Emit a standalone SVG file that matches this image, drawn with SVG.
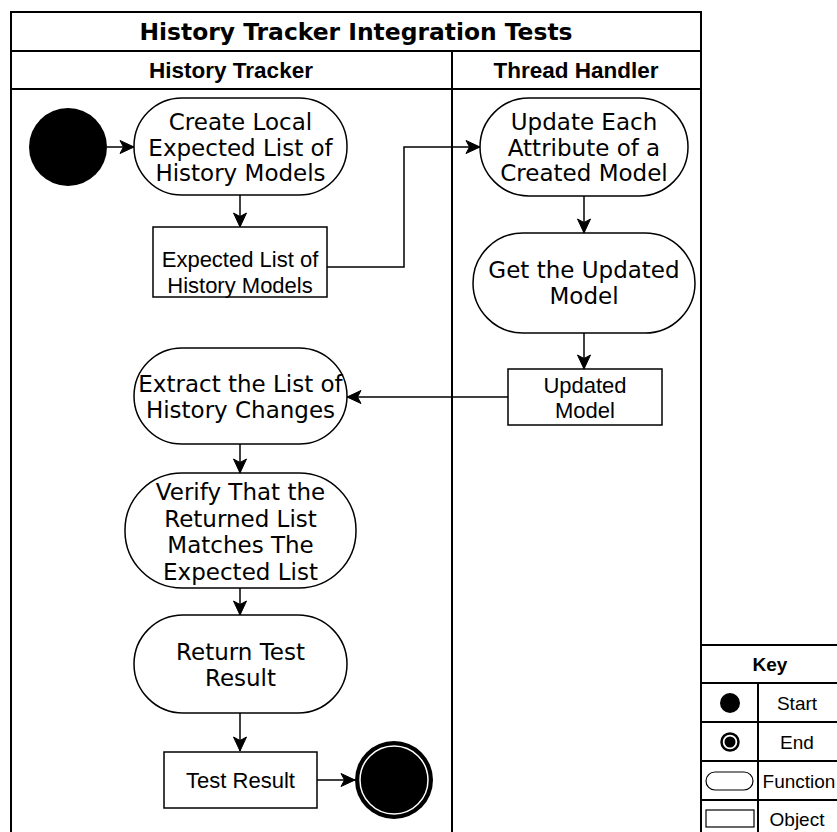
<svg xmlns="http://www.w3.org/2000/svg" width="837" height="832" viewBox="0 0 837 832">
<defs>
<style>
.frame{fill:none;stroke:#000;stroke-width:2}
.fn{fill:#fff;stroke:#000;stroke-width:1.5}
.obj{fill:#fff;stroke:#000;stroke-width:1.5}
.ft{font-family:"DejaVu Sans",Verdana,sans-serif;font-size:23px;fill:#000;text-anchor:middle}
.ot{font-family:"Liberation Sans",Arial,sans-serif;font-size:22px;fill:#000;text-anchor:middle}
.hd{font-family:"Liberation Sans",Arial,sans-serif;font-size:22.5px;font-weight:bold;fill:#000;text-anchor:middle}
.tt{font-family:"DejaVu Sans",Verdana,sans-serif;font-size:23.4px;font-weight:bold;fill:#000;text-anchor:middle}
.kt{font-family:"Liberation Sans",Arial,sans-serif;font-size:19px;fill:#000;text-anchor:middle}
.conn{fill:none;stroke:#000;stroke-width:1.5}
</style>
<marker id="arr" markerUnits="userSpaceOnUse" markerWidth="16" markerHeight="16" viewBox="0 0 16 16" refX="15" refY="8" orient="auto">
<path d="M1,1.5 L15,8 L1,14.5 L4.5,8 z" fill="#000" stroke="#000" stroke-width="1"/>
</marker>
</defs>
<rect width="837" height="832" fill="#fff"/>
<g id="frame">
<path class="frame" d="M11,840 V12 H701 V840"/>
<line class="frame" x1="11" y1="51" x2="701" y2="51"/>
<line class="frame" x1="11" y1="89" x2="701" y2="89"/>
<line class="frame" x1="452" y1="51" x2="452" y2="840"/>
<text class="tt" x="356" y="40">History Tracker Integration Tests</text>
<text class="hd" x="231" y="78">History Tracker</text>
<text class="hd" x="576" y="78">Thread Handler</text>
</g>
<g id="connectors">
<line class="conn" x1="107" y1="147" x2="134" y2="147" marker-end="url(#arr)"/>
<line class="conn" x1="240" y1="195" x2="240" y2="227" marker-end="url(#arr)"/>
<path class="conn" d="M327,267 H404 V147 H480" marker-end="url(#arr)"/>
<line class="conn" x1="584" y1="196" x2="584" y2="233" marker-end="url(#arr)"/>
<line class="conn" x1="584" y1="333" x2="584" y2="369" marker-end="url(#arr)"/>
<line class="conn" x1="508" y1="397" x2="347" y2="397" marker-end="url(#arr)"/>
<line class="conn" x1="240" y1="444" x2="240" y2="473" marker-end="url(#arr)"/>
<line class="conn" x1="240" y1="588" x2="240" y2="615" marker-end="url(#arr)"/>
<line class="conn" x1="240" y1="713" x2="240" y2="751" stroke-width="3" marker-end="url(#arr)"/>
<line class="conn" x1="317" y1="780" x2="355" y2="780" marker-end="url(#arr)"/>
</g>
<g id="start"><circle cx="68" cy="147" r="39" fill="#000"/></g>
<g id="create-local">
<rect class="fn" x="134" y="98" width="213" height="97" rx="48" ry="48"/>
<text class="ft" x="240.5" y="130">Create Local</text>
<text class="ft" x="240.5" y="155.5">Expected List of</text>
<text class="ft" x="240.5" y="181">History Models</text>
</g>
<g id="expected-list">
<rect class="obj" x="153" y="227" width="174" height="70"/>
<text class="ot" x="240" y="267">Expected List of</text>
<text class="ot" x="240" y="293">History Models</text>
</g>
<g id="update-each">
<rect class="fn" x="480" y="98" width="208" height="98" rx="49" ry="49"/>
<text class="ft" x="584" y="130">Update Each</text>
<text class="ft" x="584" y="155.5">Attribute of a</text>
<text class="ft" x="584" y="181">Created Model</text>
</g>
<g id="get-updated">
<rect class="fn" x="473" y="233" width="222" height="100" rx="50" ry="50"/>
<text class="ft" x="584" y="278">Get the Updated</text>
<text class="ft" x="584" y="304">Model</text>
</g>
<g id="updated-model">
<rect class="obj" x="508" y="369" width="154" height="56"/>
<text class="ot" x="585" y="393">Updated</text>
<text class="ot" x="585" y="418">Model</text>
</g>
<g id="extract">
<rect class="fn" x="134" y="348" width="213" height="96" rx="48" ry="48"/>
<text class="ft" x="240.5" y="392">Extract the List of</text>
<text class="ft" x="240.5" y="418">History Changes</text>
</g>
<g id="verify">
<rect class="fn" x="125" y="473" width="231" height="115" rx="57" ry="57"/>
<text class="ft" x="240.5" y="500">Verify That the</text>
<text class="ft" x="240.5" y="526.5">Returned List</text>
<text class="ft" x="240.5" y="553">Matches The</text>
<text class="ft" x="240.5" y="579.5">Expected List</text>
</g>
<g id="return-result">
<rect class="fn" x="134" y="615" width="213" height="98" rx="49" ry="49"/>
<text class="ft" x="240.5" y="660">Return Test</text>
<text class="ft" x="240.5" y="686">Result</text>
</g>
<g id="test-result">
<rect class="obj" x="164" y="752" width="153" height="56"/>
<text class="ot" x="240.5" y="788">Test Result</text>
</g>
<g id="end">
<circle cx="394" cy="780" r="39" fill="#000"/>
<circle cx="394" cy="780" r="34" fill="#000" stroke="#fff" stroke-width="1.5"/>
</g>
<g id="key">
<rect class="frame" x="701" y="645" width="140" height="200" fill="#fff"/>
<line class="frame" x1="701" y1="683" x2="841" y2="683"/>
<line class="frame" x1="701" y1="722" x2="841" y2="722"/>
<line class="frame" x1="701" y1="761" x2="841" y2="761"/>
<line class="frame" x1="701" y1="800" x2="841" y2="800"/>
<line class="frame" x1="758" y1="683" x2="758" y2="845"/>
<text class="kt" x="770" y="671" font-weight="bold">Key</text>
<circle cx="730" cy="703" r="10" fill="#000"/>
<text class="kt" x="797" y="710">Start</text>
<circle cx="730" cy="742" r="8.5" fill="#fff" stroke="#000" stroke-width="2.5"/>
<circle cx="730" cy="742" r="5.5" fill="#000"/>
<text class="kt" x="797" y="749">End</text>
<rect x="706" y="772" width="47" height="18" rx="9" fill="#fff" stroke="#000" stroke-width="1.2"/>
<text class="kt" x="799" y="788">Function</text>
<rect x="706" y="810" width="48" height="17" fill="#fff" stroke="#000" stroke-width="1.2"/>
<text class="kt" x="797" y="826">Object</text>
</g>
</svg>
